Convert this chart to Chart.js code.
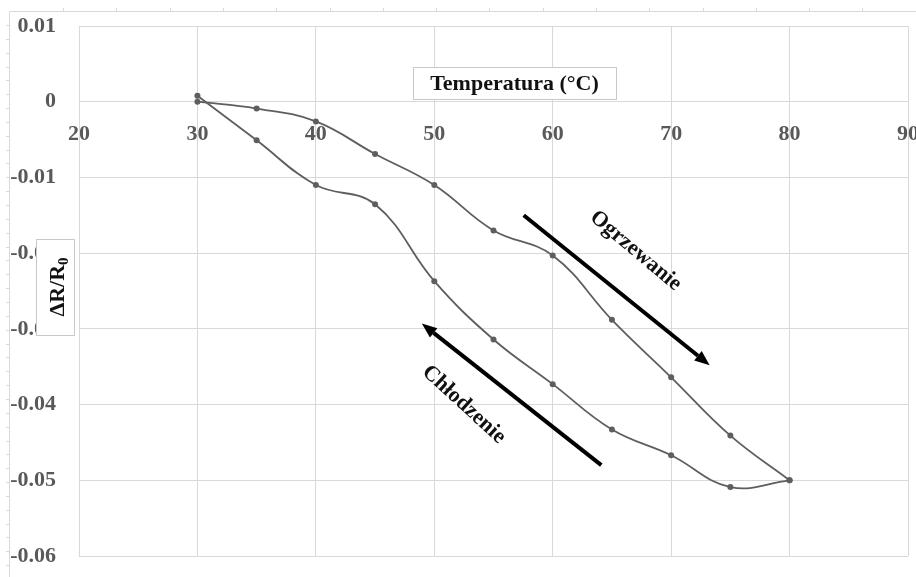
<!DOCTYPE html>
<html><head><meta charset="utf-8">
<script src="https://cdn.jsdelivr.net/npm/chart.js@4/dist/chart.umd.min.js"></script>
<style>html,body{margin:0;padding:0;background:#fff;}#wrap{width:916px;height:577px;position:relative}</style>
</head><body><div id="wrap"><canvas id="c" width="916" height="577"></canvas></div>
<script>
// ---- data ----
const heatingTemps = [30, 35, 40, 45, 50, 55, 60, 65, 70, 75, 80];
const heating      = [0, -0.0009, -0.0026, -0.0069, -0.011, -0.017, -0.0203, -0.0288, -0.0364, -0.0441, -0.050];
const coolingTemps = [80, 75, 70, 65, 60, 55, 50, 45, 40, 35, 30];
const cooling      = [-0.050, -0.0509, -0.0467, -0.0433, -0.0373, -0.0314, -0.0237, -0.01355, -0.011, -0.0051, 0.0008];
const xTicks = [20, 30, 40, 50, 60, 70, 80, 90];
const yTicks = [0.01, 0, -0.01, -0.02, -0.03, -0.04, -0.05, -0.06];
const xTitle = 'Temperatura (°C)';
const yTitleMain = 'ΔR/R';
const yTitleSub = '0';
const arrowLabels = ['Ogrzewanie', 'Chłodzenie'];

// ---- annotation placement (data coordinates) ----
const annotations = [
  {text: arrowLabels[0], from: [57.55, -0.0150], to: [73.25, -0.0348], label: [67.0, -0.0197], angle: 40},
  {text: arrowLabels[1], from: [64.1, -0.0480], to: [48.95, -0.0293], label: [52.5, -0.0400], angle: 42.5}
];

const SERIF = '"Liberation Serif", "DejaVu Serif", serif';
const LINE = '#5e5e5e';

const toXY = (xs, ys) => xs.map((x, i) => ({x: x, y: ys[i]}));

const decor = {
  id: 'decor',
  beforeDraw(chart) {
    const ctx = chart.ctx;
    ctx.save();
    ctx.strokeStyle = '#d9d9d9';
    ctx.lineWidth = 1;
    ctx.beginPath();
    ctx.moveTo(9.5, 11.5); ctx.lineTo(9.5, 577);
    ctx.moveTo(9.5, 11.5); ctx.lineTo(916, 11.5);
    for (let y = 25; y < 577; y += 13.85) { ctx.moveTo(6, Math.round(y) + 0.5); ctx.lineTo(9.5, Math.round(y) + 0.5); }
    for (let x = 63; x < 916; x += 53.3) { ctx.moveTo(Math.round(x) + 0.5, 8); ctx.lineTo(Math.round(x) + 0.5, 11.5); }
    ctx.stroke();
    ctx.restore();
  },
  afterDraw(chart) {
    const ctx = chart.ctx;
    const xs = chart.scales.x, ys = chart.scales.y;
    ctx.save();
    // arrows
    annotations.forEach(a => {
      const x1 = xs.getPixelForValue(a.from[0]), y1 = ys.getPixelForValue(a.from[1]);
      const x2 = xs.getPixelForValue(a.to[0]), y2 = ys.getPixelForValue(a.to[1]);
      const ang = Math.atan2(y2 - y1, x2 - x1);
      const head = 15, hw = 6;
      const bx = x2 - head * Math.cos(ang), by = y2 - head * Math.sin(ang);
      ctx.strokeStyle = '#000'; ctx.fillStyle = '#000'; ctx.lineWidth = 4;
      ctx.beginPath(); ctx.moveTo(x1, y1); ctx.lineTo(bx, by); ctx.stroke();
      ctx.beginPath();
      ctx.moveTo(x2, y2);
      ctx.lineTo(bx + hw * Math.sin(ang), by - hw * Math.cos(ang));
      ctx.lineTo(bx - hw * Math.sin(ang), by + hw * Math.cos(ang));
      ctx.closePath(); ctx.fill();
      // label
      const lx = xs.getPixelForValue(a.label[0]), ly = ys.getPixelForValue(a.label[1]);
      ctx.save();
      ctx.translate(lx, ly);
      ctx.rotate(a.angle * Math.PI / 180);
      ctx.font = 'bold 22px ' + SERIF;
      ctx.fillStyle = '#111';
      ctx.textAlign = 'center'; ctx.textBaseline = 'middle';
      ctx.fillText(a.text, 0, 0);
      ctx.restore();
    });
    // x title box
    ctx.fillStyle = '#fff'; ctx.strokeStyle = '#c8c8c8'; ctx.lineWidth = 1;
    ctx.fillRect(413, 67, 203, 32); ctx.strokeRect(413.5, 67.5, 203, 32);
    ctx.fillStyle = '#111'; ctx.font = 'bold 22px ' + SERIF;
    ctx.textAlign = 'center'; ctx.textBaseline = 'middle';
    ctx.fillText(xTitle, 514.5, 84);
    // y title box
    ctx.fillStyle = '#fff';
    ctx.fillRect(36, 239, 38, 96); ctx.strokeRect(36.5, 239.5, 38, 96);
    ctx.save();
    ctx.translate(57, 287);
    ctx.rotate(-Math.PI / 2);
    ctx.fillStyle = '#111';
    ctx.font = 'bold 22px ' + SERIF;
    const w1 = ctx.measureText(yTitleMain).width;
    ctx.font = 'bold 15px ' + SERIF;
    const w2 = ctx.measureText(yTitleSub).width;
    const start = -(w1 + w2) / 2;
    ctx.textAlign = 'left'; ctx.textBaseline = 'alphabetic';
    ctx.font = 'bold 22px ' + SERIF;
    ctx.fillText(yTitleMain, start, 7);
    ctx.font = 'bold 15px ' + SERIF;
    ctx.fillText(yTitleSub, start + w1, 11);
    ctx.restore();
    ctx.restore();
  }
};

new Chart(document.getElementById('c'), {
  type: 'scatter',
  data: {
    datasets: [
      {label: arrowLabels[0], data: toXY(heatingTemps, heating), showLine: true, tension: 0.4,
       borderColor: LINE, backgroundColor: LINE, borderWidth: 1.8, pointRadius: 3, pointBorderWidth: 0},
      {label: arrowLabels[1], data: toXY(coolingTemps, cooling), showLine: true, tension: 0.4,
       borderColor: LINE, backgroundColor: LINE, borderWidth: 1.8, pointRadius: 3, pointBorderWidth: 0}
    ]
  },
  options: {
    responsive: false,
    animation: false,
    layout: {padding: {left: 0, top: 26, right: 8, bottom: 21}},
    plugins: {legend: {display: false}, tooltip: {enabled: false}, title: {display: false}},
    scales: {
      x: {
        type: 'linear', min: 20, max: 90,
        position: {y: 0},
        afterBuildTicks: s => { s.ticks = xTicks.map(v => ({value: v})); },
        afterFit: s => { s.paddingLeft = 0; s.paddingRight = 0; s.paddingTop = 0; s.paddingBottom = 0; },
        grid: {color: '#d9d9d9', lineWidth: 1, drawTicks: false},
        border: {display: true, color: '#d9d9d9'},
        ticks: {padding: 19, color: '#595959', maxRotation: 0, autoSkip: false,
                font: {family: SERIF, size: 22, weight: 'bold'}}
      },
      y: {
        type: 'linear', min: -0.06, max: 0.01,
        afterBuildTicks: s => { s.ticks = yTicks.map(v => ({value: v})); },
        afterFit: s => { s.width = 79; s.paddingTop = 0; s.paddingBottom = 0; s.paddingLeft = 0; s.paddingRight = 0; },
        grid: {color: '#d9d9d9', lineWidth: 1, drawTicks: false},
        border: {display: true, color: '#d9d9d9'},
        ticks: {padding: 23, color: '#595959', autoSkip: false,
                font: {family: SERIF, size: 22, weight: 'bold'},
                callback: v => { const r = Math.round(v * 100) / 100; return r === 0 ? '0' : String(r); }}
      }
    }
  },
  plugins: [decor]
});
</script>
</body></html>
